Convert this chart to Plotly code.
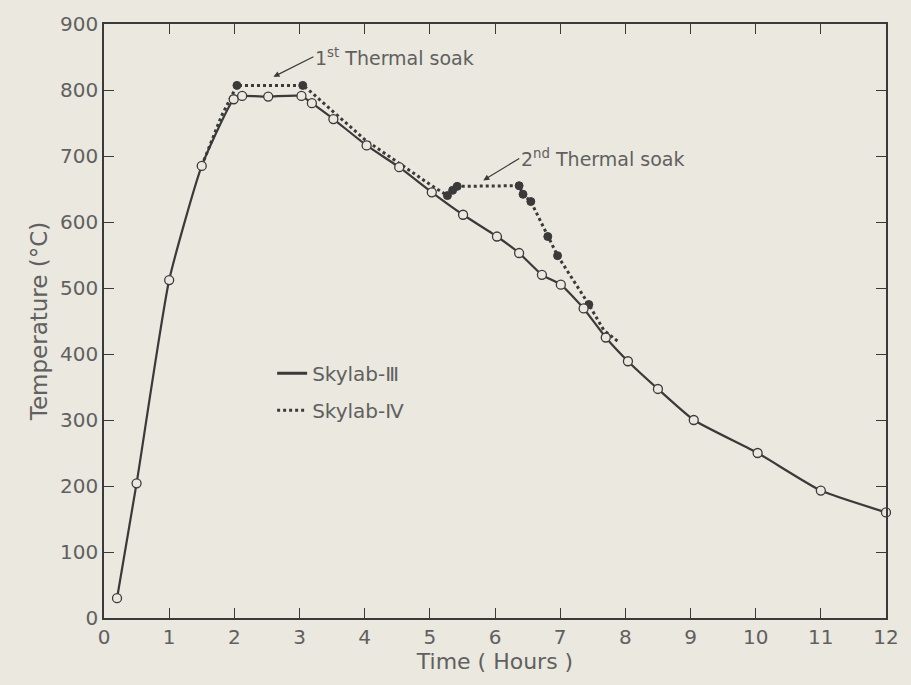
import plotly.graph_objects as go

# Skylab-III (solid line, open circles)
t3 = [0.2, 0.5, 1.0, 1.5, 1.99, 2.12, 2.52, 3.03, 3.19, 3.52, 4.03, 4.53, 5.03, 5.51,
      6.03, 6.37, 6.72, 7.01, 7.36, 7.70, 8.04, 8.5, 9.05, 10.03, 11.0, 12.0]
T3 = [30, 204, 512, 685, 786, 791, 790, 791, 780, 756, 716, 683, 645, 611,
      578, 553, 520, 505, 469, 425, 389, 347, 300, 250, 193, 160]

# Skylab-IV (dotted line, filled circles at soak points)
t4 = [1.5, 1.8, 2.04, 3.05, 3.2, 4.0, 5.0, 5.27, 5.35, 5.42, 6.37, 6.43, 6.55,
      6.81, 6.96, 7.44, 7.67, 7.9]
T4 = [685, 760, 807, 807, 795, 725, 657, 640, 648, 654, 655, 642, 631,
      578, 549, 475, 436, 418]
t4_mark = [2.04, 3.05, 5.27, 5.35, 5.42, 6.37, 6.43, 6.55, 6.81, 6.96, 7.44]
T4_mark = [807, 807, 640, 648, 654, 655, 642, 631, 578, 549, 475]

x_ticks = list(range(0, 13))
y_ticks = list(range(0, 901, 100))

bg = "#ebe8df"
ink = "#3a3a3a"
txt = "#606060"
font = "DejaVu Sans"

fig = go.Figure()

fig.add_trace(go.Scatter(
    x=t4, y=T4, mode="lines", line=dict(color=ink, width=3, dash="dot"),
    showlegend=False, hoverinfo="skip", cliponaxis=False))
fig.add_trace(go.Scatter(
    x=t4_mark, y=T4_mark, mode="markers",
    marker=dict(color=ink, size=8, line=dict(color=ink, width=1)),
    showlegend=False, cliponaxis=False))
fig.add_trace(go.Scatter(
    x=t3, y=T3, mode="lines+markers",
    line=dict(color=ink, width=2.2, shape="spline", smoothing=0.5),
    marker=dict(symbol="circle", size=9, color=bg, line=dict(color=ink, width=1.3)),
    showlegend=False, cliponaxis=False))

# legend entries
fig.add_trace(go.Scatter(x=[None], y=[None], mode="lines", name="Skylab-Ⅲ",
                         legendgroup="a", line=dict(color=ink, width=3)))
fig.add_trace(go.Scatter(x=[None], y=[None], mode="lines", name="Skylab-Ⅳ",
                         legendgroup="b", line=dict(color=ink, width=3, dash="dot")))

fig.add_annotation(x=2.6, y=820, ax=40, ay=-20, xref="x", yref="y",
                   xanchor="left", yanchor="middle",
                   showarrow=True, arrowhead=2, arrowsize=1,
                   arrowwidth=1.2, arrowcolor=ink, standoff=0,
                   text="1<sup>st</sup> Thermal soak",
                   font=dict(family=font, size=19, color=txt))
fig.add_annotation(x=5.82, y=663, ax=36, ay=-22, xref="x", yref="y",
                   xanchor="left", yanchor="middle",
                   showarrow=True, arrowhead=2, arrowsize=1,
                   arrowwidth=1.2, arrowcolor=ink, standoff=0,
                   text="2<sup>nd</sup> Thermal soak",
                   font=dict(family=font, size=19, color=txt))

axis_common = dict(showline=True, linecolor=ink, linewidth=1.5, mirror="ticks",
                   ticks="inside", ticklen=10, tickcolor=ink, tickwidth=1.2,
                   showgrid=False, zeroline=False,
                   tickfont=dict(family=font, size=20, color=txt))

fig.update_layout(
    width=911, height=685,
    paper_bgcolor=bg, plot_bgcolor=bg,
    margin=dict(l=104, r=16, t=23, b=67),
    xaxis=dict(range=[0, 12], tickvals=x_ticks,
               title=dict(text="Time ( Hours )", standoff=2,
                          font=dict(family=font, size=22, color=txt)),
               **axis_common),
    yaxis=dict(range=[0, 900], tickvals=y_ticks,
               title=dict(text="Temperature (°C)", standoff=6,
                          font=dict(family=font, size=23, color=txt)),
               **axis_common),
    legend=dict(x=0.215, y=0.445, xanchor="left", yanchor="top",
                bgcolor="rgba(0,0,0,0)", tracegroupgap=8,
                font=dict(family=font, size=20, color=txt)),
)

fig.write_html("out.html")
